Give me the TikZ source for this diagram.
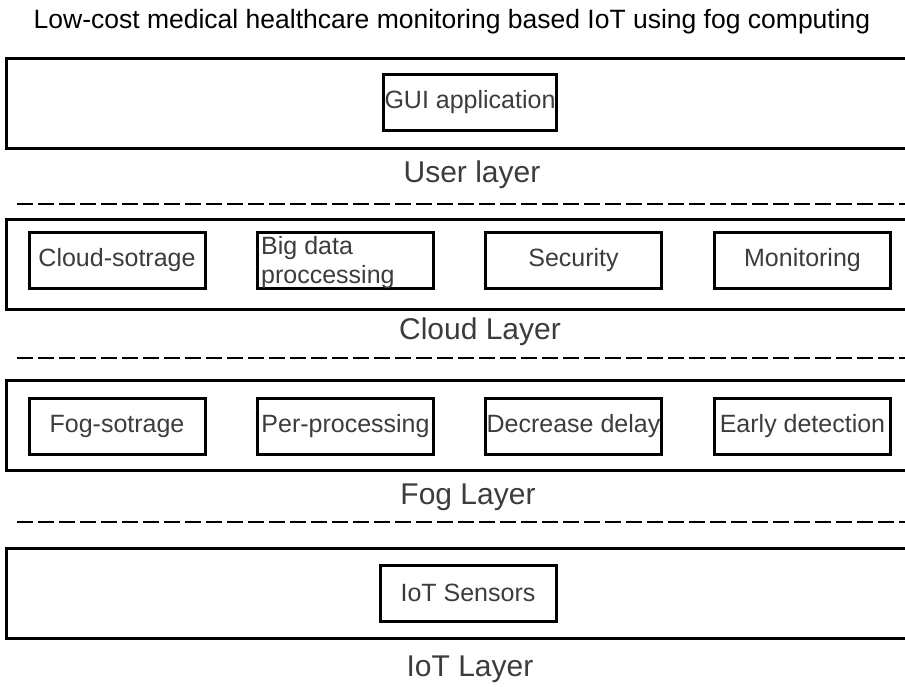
\documentclass[tikz,border=0pt]{standalone}
\usepackage{fontspec}
\setmainfont{Liberation Sans}
\definecolor{txtgray}{HTML}{3C3C3C}
\tikzset{
  layerbox/.style={draw, line width=3pt, minimum width=960pt, minimum height=90pt,
    anchor=north west, inner sep=0pt, outer sep=0pt},
  inbox/.style={draw, line width=3pt, minimum width=176pt, minimum height=56pt,
    inner sep=1pt, text=txtgray, font=\fontsize{25}{28}\selectfont},
  layername/.style={text=txtgray, font=\fontsize{30}{34}\selectfont},
  sepline/.style={line width=2.5pt, dash pattern=on 16pt off 5pt},
}
\begin{document}
\begin{tikzpicture}[x=1pt,y=-1pt]
  \useasboundingbox (0,0) rectangle (905,686);
  \node[font=\fontsize{26.5}{30}\selectfont] (title) at (452,22)
    {Low-cost medical healthcare monitoring based IoT using fog computing};

  % user layer
  \node[layerbox] (user) at (6,58) {};
  \node[inbox, minimum width=172pt] (gui) at (470,102) {GUI application};
  \node[layername] (userlbl) at (472,175) {User layer};
  \draw[sepline] (17,204) -- (910,204);

  % cloud layer
  \node[layerbox] (cloud) at (6,219) {};
  \node[inbox] (cstore) at (117,260.5) {Cloud-sotrage};
  \node[inbox, label={[text=txtgray, font=\fontsize{25}{29}\selectfont,
      anchor=north west, align=left, inner sep=0pt, xshift=5pt, yshift=-5pt]
      north west:Big data\\proccessing}]
    (bigdata) at (345.5,260.5) {};
  \node[inbox] (security) at (573.5,260.5) {Security};
  \node[inbox] (monitor) at (802.5,260.5) {Monitoring};
  \node[layername] (cloudlbl) at (480,332) {Cloud Layer};
  \draw[sepline] (17,358) -- (910,358);

  % fog layer
  \node[layerbox] (fog) at (6,380) {};
  \node[inbox] (fstore) at (117,426) {Fog-sotrage};
  \node[inbox] (preproc) at (345.5,426) {\raisebox{5pt}{Per-processing}};
  \node[inbox] (delay) at (573.5,426) {Decrease delay};
  \node[inbox] (early) at (802.5,426) {Early detection};
  \node[layername] (foglbl) at (468,497) {Fog Layer};
  \draw[sepline] (17,522) -- (910,522);

  % iot layer
  \node[layerbox] (iot) at (6,548) {};
  \node[inbox] (sensors) at (468,593) {IoT Sensors};
  \node[layername] (iotlbl) at (470,669) {IoT Layer};
\end{tikzpicture}
\end{document}
